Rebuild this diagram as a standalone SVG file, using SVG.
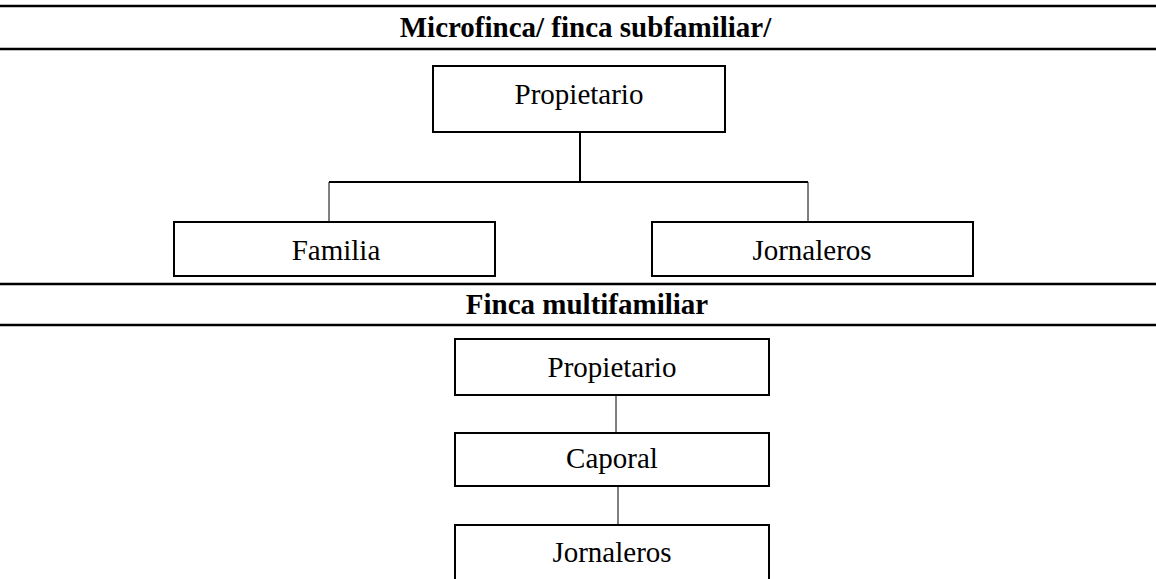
<svg xmlns="http://www.w3.org/2000/svg" width="1156" height="579" viewBox="0 0 1156 579">
<style>
.box{fill:#fff;stroke:#000;stroke-width:2}
.rule{stroke:#000;stroke-width:2.5}
.thin{stroke:#000;stroke-width:1;fill:none}
.thick{stroke:#000;stroke-width:2;fill:none}
.t{font-family:"Liberation Serif","Times New Roman",serif;font-size:29px;fill:#000;text-anchor:middle}
.h{font-family:"Liberation Serif","Times New Roman",serif;font-size:29px;font-weight:bold;fill:#000;text-anchor:middle}
</style>
<rect width="1156" height="579" fill="#fff"/>
<g id="rules">
<line class="rule" x1="0" y1="6" x2="1156" y2="6"/>
<line class="rule" x1="0" y1="49" x2="1156" y2="49"/>
<line class="rule" x1="0" y1="284" x2="1156" y2="284"/>
<line class="rule" x1="0" y1="325" x2="1156" y2="325"/>
</g>
<text id="title1" class="h" x="585.5" y="37">Microfinca/ finca subfamiliar/</text>
<text id="title2" class="h" x="587" y="314">Finca multifamiliar</text>
<g id="connectors">
<polyline class="thick" points="580,132 580,182"/>
<polyline class="thick" points="329,182 808,182"/>
<polyline class="thin" points="329,182 329,222"/>
<polyline class="thin" points="808,182 808,222"/>
<polyline class="thin" points="616,395 616,433"/>
<polyline class="thin" points="618,486 618,525"/>
</g>
<g id="n-propietario1">
<rect class="box" x="433" y="66" width="292" height="66"/>
<text class="t" x="579" y="104">Propietario</text>
</g>
<g id="n-familia">
<rect class="box" x="174" y="222" width="321" height="54"/>
<text class="t" x="336" y="260">Familia</text>
</g>
<g id="n-jornaleros1">
<rect class="box" x="652" y="222" width="321" height="54"/>
<text class="t" x="812" y="260">Jornaleros</text>
</g>
<g id="n-propietario2">
<rect class="box" x="455" y="339" width="314" height="56"/>
<text class="t" x="612" y="377">Propietario</text>
</g>
<g id="n-caporal">
<rect class="box" x="455" y="433" width="314" height="53"/>
<text class="t" x="612" y="468">Caporal</text>
</g>
<g id="n-jornaleros2">
<rect class="box" x="455" y="525" width="314" height="80"/>
<text class="t" x="612" y="562">Jornaleros</text>
</g>
</svg>
